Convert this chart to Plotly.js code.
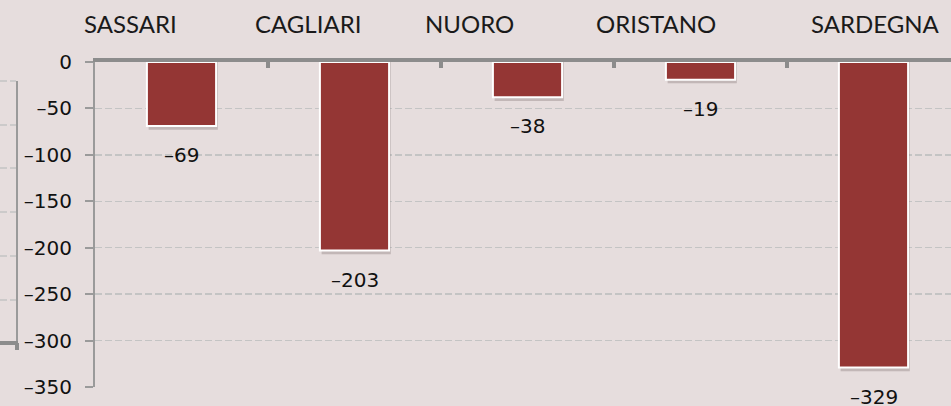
<!DOCTYPE html>
<html><head><meta charset="utf-8">
<script src="https://cdn.plot.ly/plotly-3.0.1.min.js"></script>
<style>html,body{margin:0;padding:0;background:#e6dddd;}#c{width:951px;height:406px;}</style>
</head><body><div id="c"></div>
<script>
const categories = ["SASSARI", "CAGLIARI", "NUORO", "ORISTANO", "SARDEGNA"];
const values = [-69, -203, -38, -19, -329];
const yTickVals = [0, -50, -100, -150, -200, -250, -300, -350];
const yTickText = ["0", "–50", "–100", "–150", "–200", "–250", "–300", "–350"];
const valueLabels = values.map(v => "–" + Math.abs(v));

// styling: horizontal pixel shift of category headers
const headerShift = [-51, -47, -58, -45, 2];

const W = 951, H = 406, L = 95, T = 62, B = 19;
const pw = W - L;
function px(x){ return (x - L) / pw; }
function py(y){ return 1 - (y - T) / (H - T - B); }

const numFont = {family: '"DejaVu Sans", sans-serif', size: 20, color: '#111'};

const annotations = [];
categories.forEach((c, i) => {
  annotations.push({x: i, y: 1, xref: 'x', yref: 'paper', text: c, showarrow: false,
    xshift: headerShift[i], yshift: 39, yanchor: 'middle',
    font: {family: 'Lato, "DejaVu Sans", sans-serif', size: 24, color: '#1a1a1a'}});
  annotations.push({x: i, y: values[i], xref: 'x', yref: 'y', text: valueLabels[i], showarrow: false,
    yanchor: 'top', yshift: -15, font: numFont});
});

const shapes = [];
// ghost leftover chart fragment at the far left
shapes.push({type: 'line', xref: 'paper', yref: 'paper', x0: px(17), x1: px(17), y0: py(81), y1: py(346),
  line: {color: '#9a9a9a', width: 2}, layer: 'below'});
[81, 125, 168, 212, 256, 300].forEach(y => shapes.push({type: 'line', xref: 'paper', yref: 'paper',
  x0: px(0), x1: px(16), y0: py(y), y1: py(y), line: {color: '#c4c4c4', width: 1.5, dash: '7px,3px'}, layer: 'below'}));
shapes.push({type: 'line', xref: 'paper', yref: 'paper', x0: px(0), x1: px(18), y0: py(343), y1: py(343),
  line: {color: '#8c8c8c', width: 4}});
shapes.push({type: 'line', xref: 'paper', yref: 'paper', x0: px(17), x1: px(17), y0: py(343), y1: py(350),
  line: {color: '#8c8c8c', width: 4}});

const xs = categories.map((c, i) => i);
const data = [
  { // soft drop shadow
    type: 'bar', x: xs, y: values.map(v => v - 4), width: 0.4, offset: -0.19,
    marker: {color: 'rgba(70,50,50,0.22)', line: {width: 0}}, hoverinfo: 'none'
  },
  {
    type: 'bar', x: xs, y: values, width: 0.4, offset: -0.2,
    marker: {color: '#943634', line: {color: '#ffffff', width: 2}}, hoverinfo: 'none'
  }
];

const layout = {
  width: W, height: H,
  margin: {l: L, r: 0, t: T, b: B, pad: 0},
  paper_bgcolor: '#e6dddd', plot_bgcolor: '#e6dddd',
  showlegend: false, barmode: 'overlay',
  xaxis: {
    type: 'linear', range: [-0.5, -0.5 + pw / 173], side: 'top',
    showticklabels: false, showgrid: false, zeroline: false,
    showline: true, linecolor: '#8c8c8c', linewidth: 4,
    tickmode: 'array', tickvals: [-0.5, 0.5, 1.5, 2.5, 3.5, 4.5],
    ticks: 'inside', ticklen: 6, tickwidth: 4, tickcolor: '#8c8c8c'
  },
  yaxis: {
    range: [-350, 0], tickmode: 'array', tickvals: yTickVals, ticktext: yTickText,
    showgrid: true, gridcolor: '#c4c4c4', gridwidth: 1.5, griddash: '7px,3px',
    zeroline: false, showline: true, linecolor: '#9a9a9a', linewidth: 2,
    ticks: 'outside', ticklen: 8, tickwidth: 2, tickcolor: '#9a9a9a',
    ticklabelstandoff: 9,
    tickfont: numFont
  },
  annotations: annotations,
  shapes: shapes
};

Plotly.newPlot('c', data, layout, {displayModeBar: false, staticPlot: true});
</script></body></html>
